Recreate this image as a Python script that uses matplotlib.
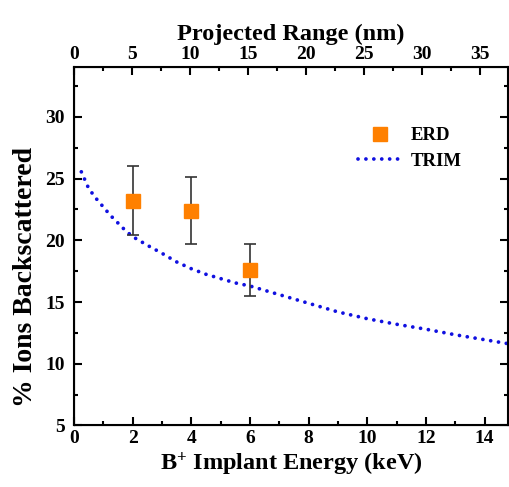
import matplotlib
matplotlib.use('Agg')
import matplotlib.pyplot as plt
from matplotlib.ticker import MultipleLocator
from matplotlib.lines import Line2D

# ERD measurements
erdEnergy = [2, 4, 6]
erdValue = [23.2, 22.4, 17.6]
erdErr = [2.8, 2.7, 2.1]

# TRIM simulation
trimEnergy = [0.25, 0.37, 0.5, 0.75, 1.0, 1.25, 1.5, 1.75, 2.0, 2.5, 3.0, 3.5, 4.0,
              4.5, 5.0, 5.5, 6.0, 7.0, 8.0, 9.0, 10.0, 11.0, 12.0, 13.0, 14.0, 15.0]
trimValue = [25.55, 24.9, 24.2, 23.4, 22.7, 22.0, 21.4, 20.8, 20.3, 19.6, 18.95, 18.25, 17.7,
             17.25, 16.9, 16.55, 16.3, 15.6, 14.9, 14.2, 13.65, 13.2, 12.8, 12.35, 11.95, 11.55]

plt.rcParams['font.family'] = ['Liberation Serif', 'DejaVu Serif']
plt.rcParams['font.weight'] = 'bold'
plt.rcParams['mathtext.fontset'] = 'custom'
plt.rcParams['mathtext.rm'] = 'Liberation Serif:bold'
plt.rcParams['mathtext.bf'] = 'Liberation Serif:bold'
plt.rcParams['mathtext.default'] = 'bf'

trimColor = '#1010e0'
erdColor = '#ff8000'
dotStyle = (0, (0.01, 2.1))

fig = plt.figure(figsize=(5.09, 4.87), dpi=100)
ax = fig.add_axes([0.1454, 0.1263, 0.8526, 0.7351])

ax.plot(trimEnergy, trimValue, linestyle=dotStyle, color=trimColor,
        linewidth=2.7, dash_capstyle='round', zorder=2)
ax.errorbar(erdEnergy, erdValue, yerr=erdErr, fmt='s', color=erdColor,
            markersize=10, ecolor='#333333', elinewidth=1.2, capsize=4,
            capthick=1.2, zorder=3)

ax.set_xlim(0, 14.8)
ax.set_ylim(5, 34)
ax.xaxis.set_major_locator(MultipleLocator(2))
ax.xaxis.set_minor_locator(MultipleLocator(1))
ax.yaxis.set_major_locator(MultipleLocator(5))
ax.yaxis.set_minor_locator(MultipleLocator(2.5))
ax.tick_params(which='both', direction='in', right=True, labelsize=14, width=1.5)
ax.tick_params(axis='y', pad=6.5)
ax.tick_params(which='major', length=6)
ax.tick_params(which='minor', length=3)
for s in ax.spines.values():
    s.set_linewidth(1.5)

ax.set_xlabel(r'B$^{+}$ Implant Energy (keV)', fontsize=17.5, fontweight='bold', labelpad=2)
ax.set_ylabel('% Ions Backscattered', fontsize=20, fontweight='bold')
ax.yaxis.set_label_coords(-0.083, 0.414)

top = ax.twiny()
top.set_xlim(0, 37.4)
top.xaxis.set_major_locator(MultipleLocator(5))
top.xaxis.set_minor_locator(MultipleLocator(2.5))
top.tick_params(which='both', direction='in', labelsize=14, width=1.5)
top.tick_params(which='major', length=6)
top.tick_params(which='minor', length=3)
top.set_xlabel('Projected Range (nm)', fontsize=17.5, fontweight='bold', labelpad=4)

handles = [Line2D([], [], marker='s', linestyle='none', color=erdColor, markersize=10),
           Line2D([], [], linestyle=dotStyle, color=trimColor, linewidth=2.7,
                  dash_capstyle='round')]
ax.legend(handles, ['ERD', 'TRIM'], loc='upper left', bbox_to_anchor=(0.616, 0.88),
          frameon=False, fontsize=13.5, handlelength=2.3, handletextpad=0.5,
          labelspacing=0.45)

fig.savefig('out.png', dpi=100)
